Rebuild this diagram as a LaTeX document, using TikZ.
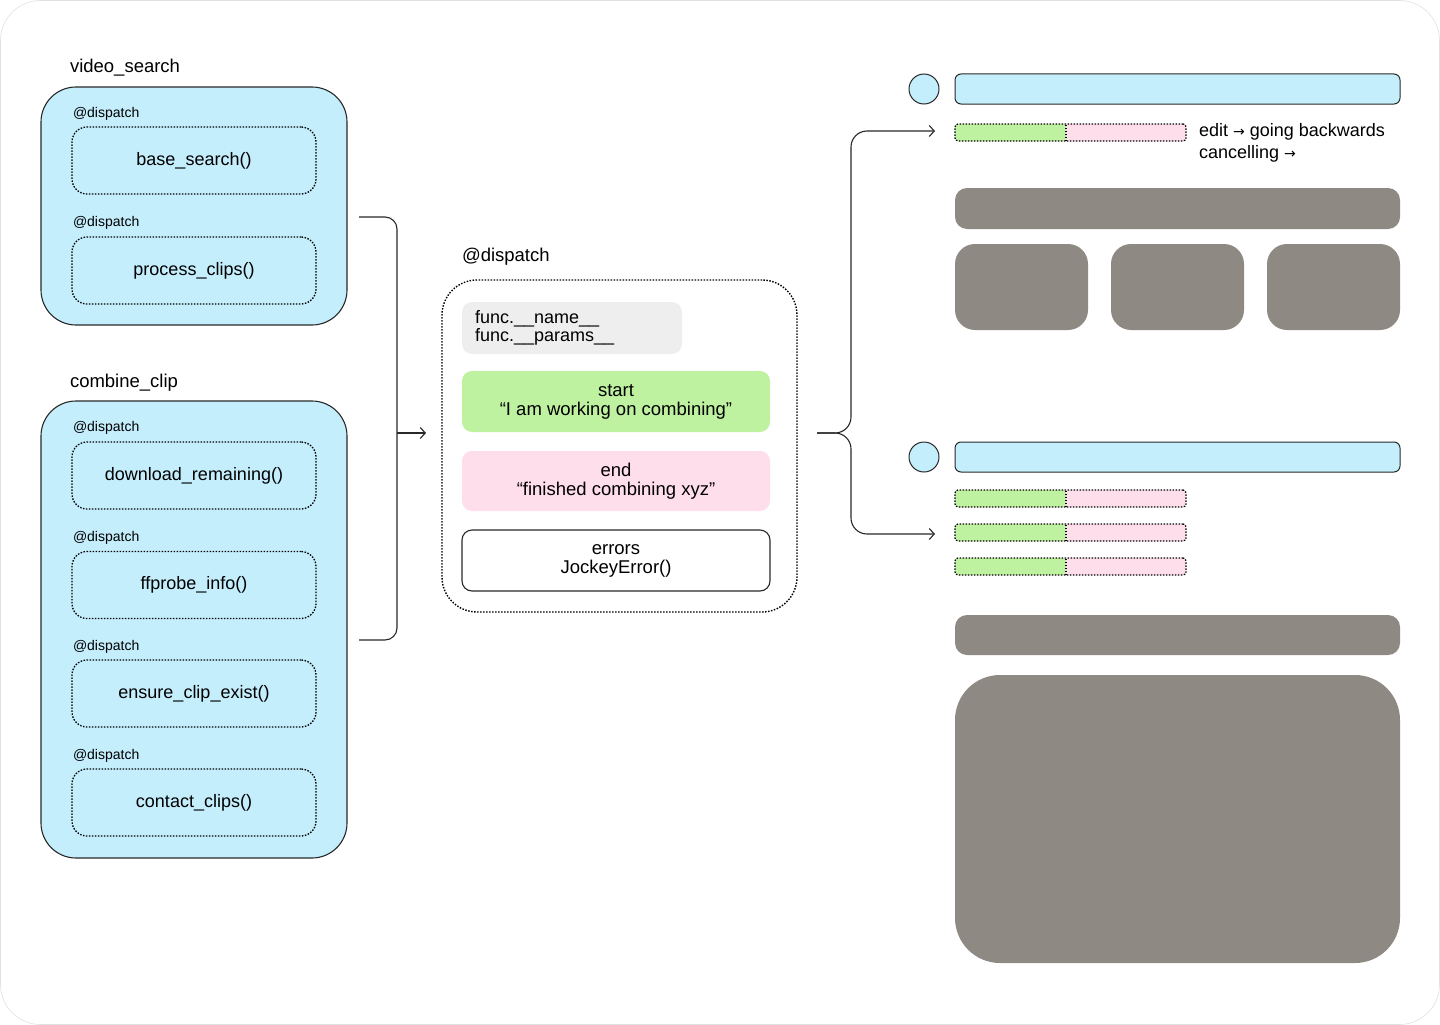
\documentclass[tikz,border=0pt]{standalone}
\usepackage{fontspec}
\setmainfont{Liberation Sans}
\newfontfamily\arrfont{DejaVu Sans}
\usetikzlibrary{arrows.meta}
\definecolor{cblue}{RGB}{197,238,253}
\definecolor{cgreen}{RGB}{191,242,160}
\definecolor{cpink}{RGB}{255,222,235}
\definecolor{clight}{RGB}{238,238,238}
\definecolor{cgray}{RGB}{142,137,131}
\definecolor{cstroke}{RGB}{40,40,40}
\newcommand{\smallarr}{{\arrfont\fontsize{14}{14}\selectfont →}}
\begin{document}
\begin{tikzpicture}[x=1pt,y=-1pt,
  every node/.style={inner sep=0pt, outer sep=0pt, text=black},
  title/.style={anchor=west, font=\fontsize{18.5}{20}\selectfont},
  disp/.style={anchor=west, font=\fontsize{14}{15}\selectfont},
  dots/.style={dash pattern=on 1.5pt off 1.5pt},
  outerbox/.style={draw=cstroke, fill=cblue, line width=1.1pt, rounded corners=35pt, minimum width=306pt},
  fnbox/.style={draw=black, dots, line width=1.3pt, rounded corners=15pt, minimum width=244pt, minimum height=67pt, font=\fontsize{18}{19}\selectfont},
  panel/.style={rounded corners=10pt, minimum width=308pt, minimum height=61pt, align=center, font=\fontsize{18.5}{19}\selectfont},
  circ/.style={circle, draw=cstroke, fill=cblue, line width=1pt, minimum size=30pt},
  bar/.style={draw=cstroke, fill=cblue, line width=1pt, rounded corners=6pt, minimum width=445pt, minimum height=30pt},
  strip/.style={draw=black, dots, line width=1.2pt, fill=cpink, rounded corners=3pt, minimum width=231pt, minimum height=17pt,
    path picture={\fill[cgreen] (path picture bounding box.south west) rectangle ([xshift=111pt]path picture bounding box.north west);
      \draw[black, dots, line width=1.2pt] ([xshift=111pt]path picture bounding box.south west) -- ([xshift=111pt]path picture bounding box.north west);}},
  graybox/.style={fill=cgray, rounded corners=#1},
  conn/.style={draw=cstroke, line width=1.1pt},
  arr/.style={conn, -{Straight Barb[length=5pt,width=11pt]}}
]
\useasboundingbox (0,0) rectangle (1440,1025);
\draw[black!12, line width=0.6pt, rounded corners=40pt] (0.5,0.5) rectangle (1439.5,1024.5);

% left column
\node[title] (tvs) at (70,68) {video\_search};
\node[outerbox, minimum height=238pt] (vs) at (194,206) {};
\node[disp] (d1) at (73,114) {@dispatch};
\node[fnbox] (bs) at (194,160.5) {base\_search()};
\node[disp] (d2) at (73,223) {@dispatch};
\node[fnbox] (pc) at (194,270.5) {process\_clips()};

\node[title] (tcc) at (70,383) {combine\_clip};
\node[outerbox, minimum height=457pt] (cc) at (194,629.5) {};
\node[disp] (d3) at (73,428) {@dispatch};
\node[fnbox] (dr) at (194,475.5) {download\_remaining()};
\node[disp] (d4) at (73,538) {@dispatch};
\node[fnbox] (ff) at (194,585) {ffprobe\_info()};
\node[disp] (d5) at (73,647) {@dispatch};
\node[fnbox] (ec) at (194,693.5) {ensure\_clip\_exist()};
\node[disp] (d6) at (73,756) {@dispatch};
\node[fnbox] (ct) at (194,802.5) {contact\_clips()};

% left bracket
\coordinate (lbt) at (359,217);
\coordinate (lbb) at (359,640);
\coordinate (lbm) at (397,433);
\coordinate (lbe) at (426,433);
\draw[conn, rounded corners=12pt] (lbt) -- (397,217) -- (397,640) -- (lbb);
\draw[arr] (lbm) -- (lbe);

% center
\node[title] (tdp) at (462,257) {@dispatch};
\node[draw=black, dots, line width=1.4pt, rounded corners=35pt, minimum width=355pt, minimum height=332pt] (dp) at (619.5,446) {};
\node[fill=clight, rounded corners=10pt, text width=194pt, inner xsep=13pt, minimum height=52pt, align=left, font=\fontsize{18}{18}\selectfont] (fn) at (572,328) {func.\_\_name\_\_\\func.\_\_params\_\_};
\node[panel, fill=cgreen] (st) at (616,401.5) {start\\“I am working on combining”};
\node[panel, fill=cpink, minimum height=60pt] (en) at (616,481) {end\\“finished combining xyz”};
\node[panel, draw=cstroke, fill=white, line width=1.1pt] (er) at (616,560.5) {errors\\JockeyError()};

% right brace
\coordinate (rbs) at (817,433);
\coordinate (rbt) at (935,131);
\coordinate (rbb) at (935,534);
\draw[arr, rounded corners=16pt] (rbs) -- (851,433) -- (851,131) -- (rbt);
\draw[arr, rounded corners=16pt] (rbs) -- (851,433) -- (851,534) -- (rbb);

% right top group
\node[circ] (c1) at (924,89) {};
\node[bar] (b1) at (1177.5,89) {};
\node[strip] (s1) at (1070.5,132.5) {};
\node[anchor=west, align=left, font=\fontsize{18}{22}\selectfont] (lbl) at (1199,143) {edit \smallarr{} going backwards\\cancelling \smallarr};
\node[graybox=12pt, minimum width=445pt, minimum height=41pt] (g1) at (1177.5,208.5) {};
\node[graybox=20pt, minimum width=133pt, minimum height=86pt] (t1) at (1021.5,287) {};
\node[graybox=20pt, minimum width=133pt, minimum height=86pt] (t2) at (1177.5,287) {};
\node[graybox=20pt, minimum width=133pt, minimum height=86pt] (t3) at (1333.5,287) {};

% right bottom group
\node[circ] (c2) at (924,457) {};
\node[bar] (b2) at (1177.5,457) {};
\node[strip] (s2) at (1070.5,498.5) {};
\node[strip] (s3) at (1070.5,532.5) {};
\node[strip] (s4) at (1070.5,566.5) {};
\node[graybox=12pt, minimum width=445pt, minimum height=40pt] (g2) at (1177.5,635) {};
\node[graybox=45pt, minimum width=445pt, minimum height=288pt] (big) at (1177.5,819) {};
\end{tikzpicture}
\end{document}
